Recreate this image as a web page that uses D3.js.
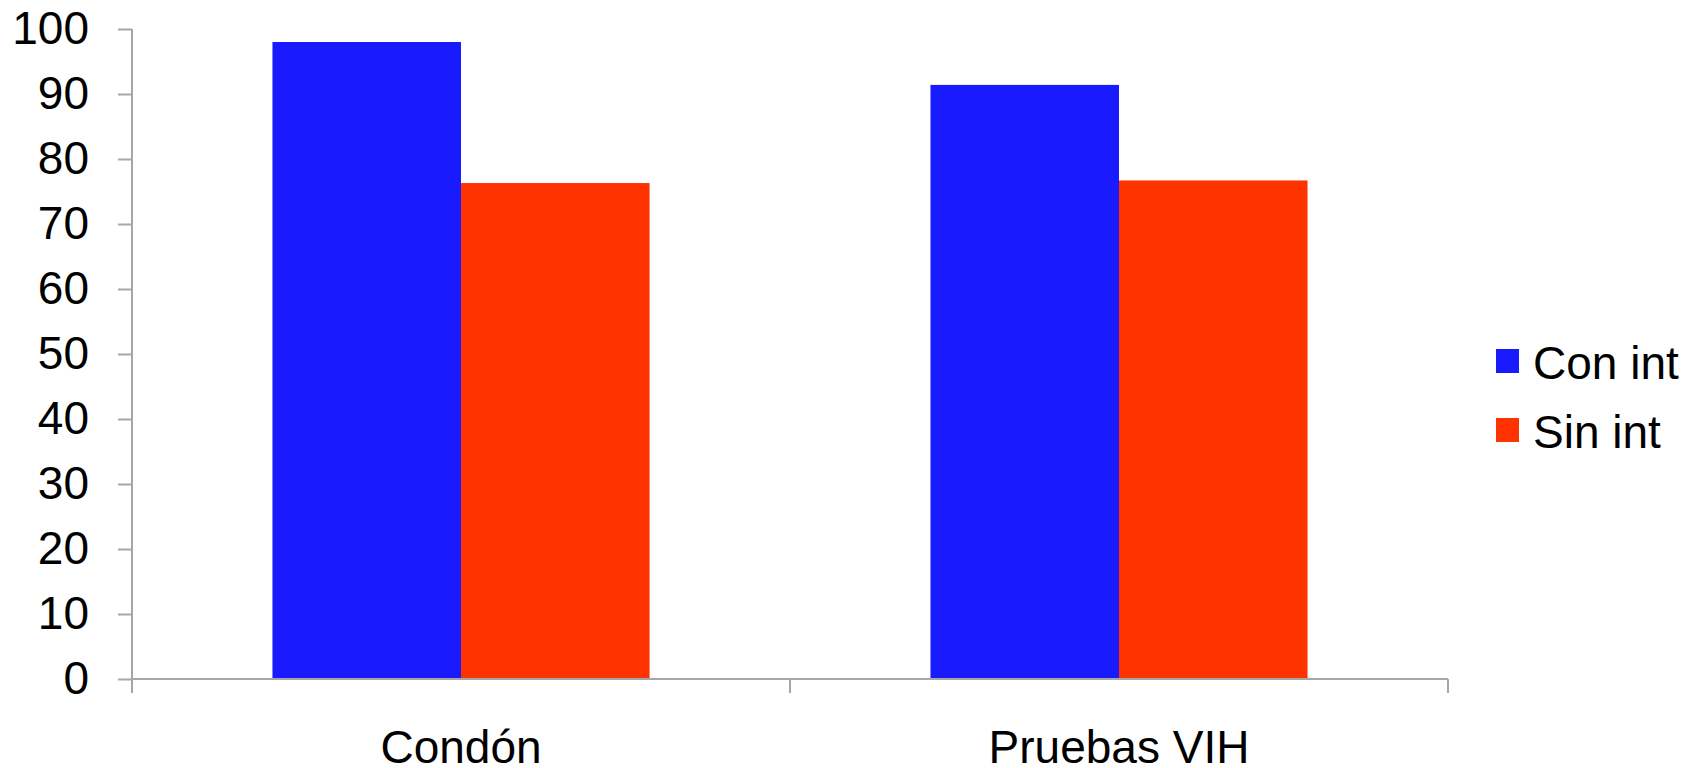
<!DOCTYPE html>
<html>
<head>
<meta charset="utf-8">
<script src="https://cdn.jsdelivr.net/npm/d3@7"></script>
<style>
  html, body { margin: 0; padding: 0; background: #ffffff; }
  svg { display: block; }
  text { font-family: "Liberation Sans", Arial, sans-serif; fill: #000; }
</style>
</head>
<body>
<script>
const categories = ["Condón", "Pruebas VIH"];
const seriesNames = ["Con int", "Sin int"];
const conInt = [98, 91.4];
const sinInt = [76.3, 76.7];
const yTicks = [0, 10, 20, 30, 40, 50, 60, 70, 80, 90, 100];
const colors = ["#1a1aff", "#ff3300"];

const W = 1702, H = 768;
const plotLeft = 132, plotRight = 1448, plotTop = 29, plotBottom = 679;
const axisColor = "#a6a6a6";
const fontSize = 46;

const svg = d3.select("body").append("svg").attr("width", W).attr("height", H);

const y = d3.scaleLinear().domain([0, 100]).range([plotBottom, plotTop]);
const x0 = d3.scaleBand().domain(categories).range([plotLeft, plotRight]).padding(0);
const x1 = d3.scaleBand().domain(seriesNames).range([0, x0.bandwidth()])
  .paddingInner(0).paddingOuter(0.745);

const data = categories.map((c, i) => ({ cat: c, values: [conInt[i], sinInt[i]] }));

// bars
const groups = svg.append("g").selectAll("g").data(data).join("g")
  .attr("transform", d => `translate(${x0(d.cat)},0)`);
groups.selectAll("rect")
  .data(d => d.values.map((v, j) => ({ s: seriesNames[j], v, j })))
  .join("rect")
  .attr("x", d => x1(d.s))
  .attr("width", x1.bandwidth())
  .attr("y", d => y(d.v))
  .attr("height", d => y(0) - y(d.v))
  .attr("fill", d => colors[d.j]);

// y axis
const yAxis = svg.append("g").attr("transform", `translate(${plotLeft},0)`)
  .call(d3.axisLeft(y).tickValues(yTicks).tickSize(14).tickPadding(29).tickSizeOuter(0));
yAxis.select(".domain").remove();
yAxis.selectAll(".tick line").attr("stroke", axisColor).attr("stroke-width", 2);
yAxis.selectAll(".tick text").attr("font-size", fontSize)
  .attr("font-family", '"Liberation Sans", Arial, sans-serif');
yAxis.append("line").attr("x1", 0).attr("x2", 0).attr("y1", y(100)).attr("y2", y(0) + 14)
  .attr("stroke", axisColor).attr("stroke-width", 2);

// x axis
const xAxis = svg.append("g").attr("transform", `translate(0,${plotBottom})`)
  .call(d3.axisBottom(x0).tickSize(0).tickPadding(51));
xAxis.select(".domain").remove();
xAxis.selectAll(".tick text").attr("font-size", fontSize)
  .attr("font-family", '"Liberation Sans", Arial, sans-serif');
xAxis.append("line").attr("x1", plotLeft).attr("x2", plotRight).attr("y1", 0).attr("y2", 0)
  .attr("stroke", axisColor).attr("stroke-width", 2);
const boundaries = categories.map(c => x0(c)).concat([x0(categories[categories.length - 1]) + x0.bandwidth()]);
xAxis.selectAll(".bound").data(boundaries).join("line").attr("class", "bound")
  .attr("x1", d => d).attr("x2", d => d).attr("y1", 0).attr("y2", 14)
  .attr("stroke", axisColor).attr("stroke-width", 2);

// legend
const legend = svg.append("g").attr("transform", "translate(1496,349)");
const items = legend.selectAll("g").data(seriesNames).join("g")
  .attr("transform", (d, i) => `translate(0,${i * 69})`);
items.append("rect").attr("width", 23).attr("height", 24).attr("fill", (d, i) => colors[i]);
items.append("text").attr("x", 37).attr("y", 30).attr("font-size", fontSize).text(d => d);
</script>
</body>
</html>
